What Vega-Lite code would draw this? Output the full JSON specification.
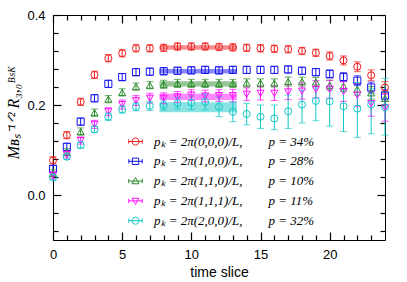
{
"$schema": "https://vega.github.io/schema/vega-lite/v6.json",
"width": 332, "height": 225,
"autosize": {"type": "none"},
"padding": {"left": 53, "top": 15, "right": 22, "bottom": 42},
"background": "white",
"config": {"view": {"stroke": "black", "strokeWidth": 1}, "axis": {"domain": false, "ticks": true, "tickColor": "black", "labelColor": "black", "titleColor": "black", "grid": false, "labelFont": "Liberation Sans", "titleFont": "Liberation Sans", "labelFontSize": 13, "titleFontSize": 14, "titleFontWeight": "normal", "tickWidth": 1.2}},
"datasets": {
"bands": [
{"s": "p\u2096 = 2\u03c0(0,0,0)/L,\u2003\u2003p = 34%", "t0": 7.7, "t1": 13.3, "lo": 0.323, "hi": 0.333},
{"s": "p\u2096 = 2\u03c0(1,0,0)/L,\u2003\u2003p = 28%", "t0": 7.7, "t1": 13.3, "lo": 0.270, "hi": 0.280},
{"s": "p\u2096 = 2\u03c0(1,1,0)/L,\u2003\u2003p = 10%", "t0": 7.7, "t1": 13.3, "lo": 0.241, "hi": 0.253},
{"s": "p\u2096 = 2\u03c0(1,1,1)/L,\u2003\u2003p = 11%", "t0": 7.7, "t1": 13.3, "lo": 0.211, "hi": 0.225},
{"s": "p\u2096 = 2\u03c0(2,0,0)/L,\u2003\u2003p = 32%", "t0": 7.7, "t1": 13.3, "lo": 0.184, "hi": 0.206}
],
"pts": [
{"s": "p\u2096 = 2\u03c0(0,0,0)/L,\u2003\u2003p = 34%", "t": 0, "v": 0.077, "lo": 0.069, "hi": 0.085},
{"s": "p\u2096 = 2\u03c0(0,0,0)/L,\u2003\u2003p = 34%", "t": 1, "v": 0.133, "lo": 0.125, "hi": 0.141},
{"s": "p\u2096 = 2\u03c0(0,0,0)/L,\u2003\u2003p = 34%", "t": 2, "v": 0.207, "lo": 0.199, "hi": 0.215},
{"s": "p\u2096 = 2\u03c0(0,0,0)/L,\u2003\u2003p = 34%", "t": 3, "v": 0.267, "lo": 0.259, "hi": 0.275},
{"s": "p\u2096 = 2\u03c0(0,0,0)/L,\u2003\u2003p = 34%", "t": 4, "v": 0.304, "lo": 0.296, "hi": 0.312},
{"s": "p\u2096 = 2\u03c0(0,0,0)/L,\u2003\u2003p = 34%", "t": 5, "v": 0.315, "lo": 0.307, "hi": 0.323},
{"s": "p\u2096 = 2\u03c0(0,0,0)/L,\u2003\u2003p = 34%", "t": 6, "v": 0.326, "lo": 0.318, "hi": 0.334},
{"s": "p\u2096 = 2\u03c0(0,0,0)/L,\u2003\u2003p = 34%", "t": 7, "v": 0.326, "lo": 0.318, "hi": 0.334},
{"s": "p\u2096 = 2\u03c0(0,0,0)/L,\u2003\u2003p = 34%", "t": 8, "v": 0.327, "lo": 0.319, "hi": 0.335},
{"s": "p\u2096 = 2\u03c0(0,0,0)/L,\u2003\u2003p = 34%", "t": 9, "v": 0.330, "lo": 0.322, "hi": 0.338},
{"s": "p\u2096 = 2\u03c0(0,0,0)/L,\u2003\u2003p = 34%", "t": 10, "v": 0.330, "lo": 0.322, "hi": 0.338},
{"s": "p\u2096 = 2\u03c0(0,0,0)/L,\u2003\u2003p = 34%", "t": 11, "v": 0.330, "lo": 0.322, "hi": 0.338},
{"s": "p\u2096 = 2\u03c0(0,0,0)/L,\u2003\u2003p = 34%", "t": 12, "v": 0.329, "lo": 0.321, "hi": 0.337},
{"s": "p\u2096 = 2\u03c0(0,0,0)/L,\u2003\u2003p = 34%", "t": 13, "v": 0.328, "lo": 0.320, "hi": 0.336},
{"s": "p\u2096 = 2\u03c0(0,0,0)/L,\u2003\u2003p = 34%", "t": 14, "v": 0.327, "lo": 0.319, "hi": 0.335},
{"s": "p\u2096 = 2\u03c0(0,0,0)/L,\u2003\u2003p = 34%", "t": 15, "v": 0.326, "lo": 0.318, "hi": 0.334},
{"s": "p\u2096 = 2\u03c0(0,0,0)/L,\u2003\u2003p = 34%", "t": 16, "v": 0.325, "lo": 0.317, "hi": 0.333},
{"s": "p\u2096 = 2\u03c0(0,0,0)/L,\u2003\u2003p = 34%", "t": 17, "v": 0.324, "lo": 0.316, "hi": 0.332},
{"s": "p\u2096 = 2\u03c0(0,0,0)/L,\u2003\u2003p = 34%", "t": 18, "v": 0.320, "lo": 0.312, "hi": 0.328},
{"s": "p\u2096 = 2\u03c0(0,0,0)/L,\u2003\u2003p = 34%", "t": 19, "v": 0.316, "lo": 0.308, "hi": 0.324},
{"s": "p\u2096 = 2\u03c0(0,0,0)/L,\u2003\u2003p = 34%", "t": 20, "v": 0.309, "lo": 0.300, "hi": 0.318},
{"s": "p\u2096 = 2\u03c0(0,0,0)/L,\u2003\u2003p = 34%", "t": 21, "v": 0.299, "lo": 0.289, "hi": 0.309},
{"s": "p\u2096 = 2\u03c0(0,0,0)/L,\u2003\u2003p = 34%", "t": 22, "v": 0.285, "lo": 0.274, "hi": 0.296},
{"s": "p\u2096 = 2\u03c0(0,0,0)/L,\u2003\u2003p = 34%", "t": 23, "v": 0.266, "lo": 0.254, "hi": 0.278},
{"s": "p\u2096 = 2\u03c0(0,0,0)/L,\u2003\u2003p = 34%", "t": 24, "v": 0.239, "lo": 0.226, "hi": 0.252},
{"s": "p\u2096 = 2\u03c0(1,0,0)/L,\u2003\u2003p = 28%", "t": 0, "v": 0.058, "lo": 0.050, "hi": 0.066},
{"s": "p\u2096 = 2\u03c0(1,0,0)/L,\u2003\u2003p = 28%", "t": 1, "v": 0.107, "lo": 0.099, "hi": 0.115},
{"s": "p\u2096 = 2\u03c0(1,0,0)/L,\u2003\u2003p = 28%", "t": 2, "v": 0.163, "lo": 0.155, "hi": 0.171},
{"s": "p\u2096 = 2\u03c0(1,0,0)/L,\u2003\u2003p = 28%", "t": 3, "v": 0.215, "lo": 0.207, "hi": 0.223},
{"s": "p\u2096 = 2\u03c0(1,0,0)/L,\u2003\u2003p = 28%", "t": 4, "v": 0.247, "lo": 0.239, "hi": 0.255},
{"s": "p\u2096 = 2\u03c0(1,0,0)/L,\u2003\u2003p = 28%", "t": 5, "v": 0.262, "lo": 0.254, "hi": 0.270},
{"s": "p\u2096 = 2\u03c0(1,0,0)/L,\u2003\u2003p = 28%", "t": 6, "v": 0.273, "lo": 0.265, "hi": 0.281},
{"s": "p\u2096 = 2\u03c0(1,0,0)/L,\u2003\u2003p = 28%", "t": 7, "v": 0.274, "lo": 0.266, "hi": 0.282},
{"s": "p\u2096 = 2\u03c0(1,0,0)/L,\u2003\u2003p = 28%", "t": 8, "v": 0.275, "lo": 0.267, "hi": 0.283},
{"s": "p\u2096 = 2\u03c0(1,0,0)/L,\u2003\u2003p = 28%", "t": 9, "v": 0.276, "lo": 0.268, "hi": 0.284},
{"s": "p\u2096 = 2\u03c0(1,0,0)/L,\u2003\u2003p = 28%", "t": 10, "v": 0.277, "lo": 0.269, "hi": 0.285},
{"s": "p\u2096 = 2\u03c0(1,0,0)/L,\u2003\u2003p = 28%", "t": 11, "v": 0.278, "lo": 0.270, "hi": 0.286},
{"s": "p\u2096 = 2\u03c0(1,0,0)/L,\u2003\u2003p = 28%", "t": 12, "v": 0.277, "lo": 0.269, "hi": 0.285},
{"s": "p\u2096 = 2\u03c0(1,0,0)/L,\u2003\u2003p = 28%", "t": 13, "v": 0.278, "lo": 0.270, "hi": 0.286},
{"s": "p\u2096 = 2\u03c0(1,0,0)/L,\u2003\u2003p = 28%", "t": 14, "v": 0.278, "lo": 0.270, "hi": 0.286},
{"s": "p\u2096 = 2\u03c0(1,0,0)/L,\u2003\u2003p = 28%", "t": 15, "v": 0.278, "lo": 0.270, "hi": 0.286},
{"s": "p\u2096 = 2\u03c0(1,0,0)/L,\u2003\u2003p = 28%", "t": 16, "v": 0.278, "lo": 0.270, "hi": 0.286},
{"s": "p\u2096 = 2\u03c0(1,0,0)/L,\u2003\u2003p = 28%", "t": 17, "v": 0.279, "lo": 0.271, "hi": 0.287},
{"s": "p\u2096 = 2\u03c0(1,0,0)/L,\u2003\u2003p = 28%", "t": 18, "v": 0.276, "lo": 0.268, "hi": 0.284},
{"s": "p\u2096 = 2\u03c0(1,0,0)/L,\u2003\u2003p = 28%", "t": 19, "v": 0.273, "lo": 0.265, "hi": 0.281},
{"s": "p\u2096 = 2\u03c0(1,0,0)/L,\u2003\u2003p = 28%", "t": 20, "v": 0.269, "lo": 0.260, "hi": 0.278},
{"s": "p\u2096 = 2\u03c0(1,0,0)/L,\u2003\u2003p = 28%", "t": 21, "v": 0.262, "lo": 0.252, "hi": 0.272},
{"s": "p\u2096 = 2\u03c0(1,0,0)/L,\u2003\u2003p = 28%", "t": 22, "v": 0.254, "lo": 0.243, "hi": 0.265},
{"s": "p\u2096 = 2\u03c0(1,0,0)/L,\u2003\u2003p = 28%", "t": 23, "v": 0.239, "lo": 0.227, "hi": 0.251},
{"s": "p\u2096 = 2\u03c0(1,0,0)/L,\u2003\u2003p = 28%", "t": 24, "v": 0.221, "lo": 0.208, "hi": 0.234},
{"s": "p\u2096 = 2\u03c0(1,1,0)/L,\u2003\u2003p = 10%", "t": 0, "v": 0.048, "lo": 0.040, "hi": 0.056},
{"s": "p\u2096 = 2\u03c0(1,1,0)/L,\u2003\u2003p = 10%", "t": 1, "v": 0.095, "lo": 0.087, "hi": 0.103},
{"s": "p\u2096 = 2\u03c0(1,1,0)/L,\u2003\u2003p = 10%", "t": 2, "v": 0.141, "lo": 0.133, "hi": 0.149},
{"s": "p\u2096 = 2\u03c0(1,1,0)/L,\u2003\u2003p = 10%", "t": 3, "v": 0.183, "lo": 0.175, "hi": 0.191},
{"s": "p\u2096 = 2\u03c0(1,1,0)/L,\u2003\u2003p = 10%", "t": 4, "v": 0.213, "lo": 0.205, "hi": 0.221},
{"s": "p\u2096 = 2\u03c0(1,1,0)/L,\u2003\u2003p = 10%", "t": 5, "v": 0.228, "lo": 0.220, "hi": 0.236},
{"s": "p\u2096 = 2\u03c0(1,1,0)/L,\u2003\u2003p = 10%", "t": 6, "v": 0.241, "lo": 0.233, "hi": 0.249},
{"s": "p\u2096 = 2\u03c0(1,1,0)/L,\u2003\u2003p = 10%", "t": 7, "v": 0.244, "lo": 0.236, "hi": 0.252},
{"s": "p\u2096 = 2\u03c0(1,1,0)/L,\u2003\u2003p = 10%", "t": 8, "v": 0.246, "lo": 0.237, "hi": 0.255},
{"s": "p\u2096 = 2\u03c0(1,1,0)/L,\u2003\u2003p = 10%", "t": 9, "v": 0.248, "lo": 0.239, "hi": 0.257},
{"s": "p\u2096 = 2\u03c0(1,1,0)/L,\u2003\u2003p = 10%", "t": 10, "v": 0.248, "lo": 0.239, "hi": 0.257},
{"s": "p\u2096 = 2\u03c0(1,1,0)/L,\u2003\u2003p = 10%", "t": 11, "v": 0.248, "lo": 0.239, "hi": 0.257},
{"s": "p\u2096 = 2\u03c0(1,1,0)/L,\u2003\u2003p = 10%", "t": 12, "v": 0.248, "lo": 0.239, "hi": 0.257},
{"s": "p\u2096 = 2\u03c0(1,1,0)/L,\u2003\u2003p = 10%", "t": 13, "v": 0.248, "lo": 0.239, "hi": 0.257},
{"s": "p\u2096 = 2\u03c0(1,1,0)/L,\u2003\u2003p = 10%", "t": 14, "v": 0.249, "lo": 0.240, "hi": 0.258},
{"s": "p\u2096 = 2\u03c0(1,1,0)/L,\u2003\u2003p = 10%", "t": 15, "v": 0.249, "lo": 0.240, "hi": 0.258},
{"s": "p\u2096 = 2\u03c0(1,1,0)/L,\u2003\u2003p = 10%", "t": 16, "v": 0.249, "lo": 0.240, "hi": 0.258},
{"s": "p\u2096 = 2\u03c0(1,1,0)/L,\u2003\u2003p = 10%", "t": 17, "v": 0.252, "lo": 0.242, "hi": 0.262},
{"s": "p\u2096 = 2\u03c0(1,1,0)/L,\u2003\u2003p = 10%", "t": 18, "v": 0.252, "lo": 0.242, "hi": 0.262},
{"s": "p\u2096 = 2\u03c0(1,1,0)/L,\u2003\u2003p = 10%", "t": 19, "v": 0.251, "lo": 0.241, "hi": 0.261},
{"s": "p\u2096 = 2\u03c0(1,1,0)/L,\u2003\u2003p = 10%", "t": 20, "v": 0.244, "lo": 0.233, "hi": 0.255},
{"s": "p\u2096 = 2\u03c0(1,1,0)/L,\u2003\u2003p = 10%", "t": 21, "v": 0.242, "lo": 0.230, "hi": 0.254},
{"s": "p\u2096 = 2\u03c0(1,1,0)/L,\u2003\u2003p = 10%", "t": 22, "v": 0.235, "lo": 0.222, "hi": 0.248},
{"s": "p\u2096 = 2\u03c0(1,1,0)/L,\u2003\u2003p = 10%", "t": 23, "v": 0.227, "lo": 0.213, "hi": 0.241},
{"s": "p\u2096 = 2\u03c0(1,1,0)/L,\u2003\u2003p = 10%", "t": 24, "v": 0.215, "lo": 0.200, "hi": 0.230},
{"s": "p\u2096 = 2\u03c0(1,1,1)/L,\u2003\u2003p = 11%", "t": 0, "v": 0.044, "lo": 0.036, "hi": 0.052},
{"s": "p\u2096 = 2\u03c0(1,1,1)/L,\u2003\u2003p = 11%", "t": 1, "v": 0.090, "lo": 0.082, "hi": 0.098},
{"s": "p\u2096 = 2\u03c0(1,1,1)/L,\u2003\u2003p = 11%", "t": 2, "v": 0.121, "lo": 0.113, "hi": 0.129},
{"s": "p\u2096 = 2\u03c0(1,1,1)/L,\u2003\u2003p = 11%", "t": 3, "v": 0.157, "lo": 0.148, "hi": 0.166},
{"s": "p\u2096 = 2\u03c0(1,1,1)/L,\u2003\u2003p = 11%", "t": 4, "v": 0.185, "lo": 0.176, "hi": 0.194},
{"s": "p\u2096 = 2\u03c0(1,1,1)/L,\u2003\u2003p = 11%", "t": 5, "v": 0.201, "lo": 0.191, "hi": 0.211},
{"s": "p\u2096 = 2\u03c0(1,1,1)/L,\u2003\u2003p = 11%", "t": 6, "v": 0.210, "lo": 0.199, "hi": 0.221},
{"s": "p\u2096 = 2\u03c0(1,1,1)/L,\u2003\u2003p = 11%", "t": 7, "v": 0.215, "lo": 0.204, "hi": 0.226},
{"s": "p\u2096 = 2\u03c0(1,1,1)/L,\u2003\u2003p = 11%", "t": 8, "v": 0.215, "lo": 0.203, "hi": 0.227},
{"s": "p\u2096 = 2\u03c0(1,1,1)/L,\u2003\u2003p = 11%", "t": 9, "v": 0.218, "lo": 0.206, "hi": 0.230},
{"s": "p\u2096 = 2\u03c0(1,1,1)/L,\u2003\u2003p = 11%", "t": 10, "v": 0.222, "lo": 0.210, "hi": 0.234},
{"s": "p\u2096 = 2\u03c0(1,1,1)/L,\u2003\u2003p = 11%", "t": 11, "v": 0.220, "lo": 0.207, "hi": 0.233},
{"s": "p\u2096 = 2\u03c0(1,1,1)/L,\u2003\u2003p = 11%", "t": 12, "v": 0.221, "lo": 0.208, "hi": 0.234},
{"s": "p\u2096 = 2\u03c0(1,1,1)/L,\u2003\u2003p = 11%", "t": 13, "v": 0.221, "lo": 0.207, "hi": 0.235},
{"s": "p\u2096 = 2\u03c0(1,1,1)/L,\u2003\u2003p = 11%", "t": 14, "v": 0.224, "lo": 0.210, "hi": 0.238},
{"s": "p\u2096 = 2\u03c0(1,1,1)/L,\u2003\u2003p = 11%", "t": 15, "v": 0.226, "lo": 0.211, "hi": 0.241},
{"s": "p\u2096 = 2\u03c0(1,1,1)/L,\u2003\u2003p = 11%", "t": 16, "v": 0.226, "lo": 0.210, "hi": 0.242},
{"s": "p\u2096 = 2\u03c0(1,1,1)/L,\u2003\u2003p = 11%", "t": 17, "v": 0.229, "lo": 0.212, "hi": 0.246},
{"s": "p\u2096 = 2\u03c0(1,1,1)/L,\u2003\u2003p = 11%", "t": 18, "v": 0.231, "lo": 0.213, "hi": 0.249},
{"s": "p\u2096 = 2\u03c0(1,1,1)/L,\u2003\u2003p = 11%", "t": 19, "v": 0.235, "lo": 0.216, "hi": 0.254},
{"s": "p\u2096 = 2\u03c0(1,1,1)/L,\u2003\u2003p = 11%", "t": 20, "v": 0.235, "lo": 0.215, "hi": 0.255},
{"s": "p\u2096 = 2\u03c0(1,1,1)/L,\u2003\u2003p = 11%", "t": 21, "v": 0.230, "lo": 0.208, "hi": 0.252},
{"s": "p\u2096 = 2\u03c0(1,1,1)/L,\u2003\u2003p = 11%", "t": 22, "v": 0.222, "lo": 0.197, "hi": 0.247},
{"s": "p\u2096 = 2\u03c0(1,1,1)/L,\u2003\u2003p = 11%", "t": 23, "v": 0.203, "lo": 0.175, "hi": 0.231},
{"s": "p\u2096 = 2\u03c0(1,1,1)/L,\u2003\u2003p = 11%", "t": 24, "v": 0.194, "lo": 0.164, "hi": 0.224},
{"s": "p\u2096 = 2\u03c0(2,0,0)/L,\u2003\u2003p = 32%", "t": 0, "v": 0.039, "lo": 0.033, "hi": 0.045},
{"s": "p\u2096 = 2\u03c0(2,0,0)/L,\u2003\u2003p = 32%", "t": 1, "v": 0.085, "lo": 0.079, "hi": 0.091},
{"s": "p\u2096 = 2\u03c0(2,0,0)/L,\u2003\u2003p = 32%", "t": 2, "v": 0.111, "lo": 0.104, "hi": 0.118},
{"s": "p\u2096 = 2\u03c0(2,0,0)/L,\u2003\u2003p = 32%", "t": 3, "v": 0.146, "lo": 0.139, "hi": 0.153},
{"s": "p\u2096 = 2\u03c0(2,0,0)/L,\u2003\u2003p = 32%", "t": 4, "v": 0.174, "lo": 0.166, "hi": 0.182},
{"s": "p\u2096 = 2\u03c0(2,0,0)/L,\u2003\u2003p = 32%", "t": 5, "v": 0.190, "lo": 0.182, "hi": 0.198},
{"s": "p\u2096 = 2\u03c0(2,0,0)/L,\u2003\u2003p = 32%", "t": 6, "v": 0.196, "lo": 0.187, "hi": 0.205},
{"s": "p\u2096 = 2\u03c0(2,0,0)/L,\u2003\u2003p = 32%", "t": 7, "v": 0.198, "lo": 0.188, "hi": 0.208},
{"s": "p\u2096 = 2\u03c0(2,0,0)/L,\u2003\u2003p = 32%", "t": 8, "v": 0.200, "lo": 0.189, "hi": 0.211},
{"s": "p\u2096 = 2\u03c0(2,0,0)/L,\u2003\u2003p = 32%", "t": 9, "v": 0.204, "lo": 0.191, "hi": 0.217},
{"s": "p\u2096 = 2\u03c0(2,0,0)/L,\u2003\u2003p = 32%", "t": 10, "v": 0.205, "lo": 0.190, "hi": 0.220},
{"s": "p\u2096 = 2\u03c0(2,0,0)/L,\u2003\u2003p = 32%", "t": 11, "v": 0.207, "lo": 0.189, "hi": 0.225},
{"s": "p\u2096 = 2\u03c0(2,0,0)/L,\u2003\u2003p = 32%", "t": 12, "v": 0.196, "lo": 0.174, "hi": 0.218},
{"s": "p\u2096 = 2\u03c0(2,0,0)/L,\u2003\u2003p = 32%", "t": 13, "v": 0.185, "lo": 0.163, "hi": 0.207},
{"s": "p\u2096 = 2\u03c0(2,0,0)/L,\u2003\u2003p = 32%", "t": 14, "v": 0.180, "lo": 0.156, "hi": 0.204},
{"s": "p\u2096 = 2\u03c0(2,0,0)/L,\u2003\u2003p = 32%", "t": 15, "v": 0.174, "lo": 0.148, "hi": 0.200},
{"s": "p\u2096 = 2\u03c0(2,0,0)/L,\u2003\u2003p = 32%", "t": 16, "v": 0.170, "lo": 0.145, "hi": 0.200},
{"s": "p\u2096 = 2\u03c0(2,0,0)/L,\u2003\u2003p = 32%", "t": 17, "v": 0.186, "lo": 0.148, "hi": 0.222},
{"s": "p\u2096 = 2\u03c0(2,0,0)/L,\u2003\u2003p = 32%", "t": 18, "v": 0.201, "lo": 0.160, "hi": 0.233},
{"s": "p\u2096 = 2\u03c0(2,0,0)/L,\u2003\u2003p = 32%", "t": 19, "v": 0.209, "lo": 0.165, "hi": 0.238},
{"s": "p\u2096 = 2\u03c0(2,0,0)/L,\u2003\u2003p = 32%", "t": 20, "v": 0.208, "lo": 0.153, "hi": 0.241},
{"s": "p\u2096 = 2\u03c0(2,0,0)/L,\u2003\u2003p = 32%", "t": 21, "v": 0.197, "lo": 0.141, "hi": 0.233},
{"s": "p\u2096 = 2\u03c0(2,0,0)/L,\u2003\u2003p = 32%", "t": 22, "v": 0.192, "lo": 0.128, "hi": 0.250},
{"s": "p\u2096 = 2\u03c0(2,0,0)/L,\u2003\u2003p = 32%", "t": 23, "v": 0.201, "lo": 0.136, "hi": 0.236},
{"s": "p\u2096 = 2\u03c0(2,0,0)/L,\u2003\u2003p = 32%", "t": 24, "v": 0.195, "lo": 0.133, "hi": 0.259}
]
},
"resolve": {"axis": {"x": "independent", "y": "independent"}, "scale": {"shape": "independent"}, "legend": {"color": "independent", "shape": "independent"}},
"layer": [
{
"data": {"name": "bands"},
"mark": {"type": "rect", "opacity": 0.5},
"encoding": {
"x": {"field": "t0", "type": "quantitative", "scale": {"domain": [0, 24], "nice": false, "zero": false},
 "axis": {"orient": "bottom", "values": [0,5,10,15,20], "title": "time slice", "titleY": 25, "titleBaseline": "top", "titleFontSize": 14,
  "ticks": false, "labelPadding": 8, "labelFlush": false, "labelOverlap": false}},
"x2": {"field": "t1"},
"y": {"field": "lo", "type": "quantitative", "scale": {"domain": [-0.1, 0.4], "nice": false, "zero": false},
 "axis": {"orient": "left", "values": [0, 0.2, 0.4], "format": ".1f",
  "title": "M\u0299\u209b\u207b\u00b9\u141f\u00b2 R\u2083,\u2080\u1d2e\u02e2\u1d37", "titleX": -40, "titleY": 97, "titleAngle": 270, "titleAlign": "center", "titleBaseline": "middle",
  "titleFont": "Liberation Serif", "titleFontStyle": "italic", "titleFontSize": 16,
  "ticks": false, "labelPadding": 8, "labelFlush": false, "labelOverlap": false}},
"y2": {"field": "hi"},
"color": {"field": "s", "type": "nominal", "legend": null}
}
},
{
"data": {"name": "pts"},
"mark": {"type": "rule", "strokeWidth": 1},
"encoding": {
"x": {"field": "t", "type": "quantitative",
 "axis": {"orient": "top", "offset": -225, "values": [0,5,10,15,20], "labels": false, "title": null, "tickSize": 8}},
"y": {"field": "lo", "type": "quantitative",
 "axis": {"orient": "right", "offset": -332, "values": [0, 0.2, 0.4], "labels": false, "title": null, "tickSize": 8}},
"y2": {"field": "hi"},
"color": {"field": "s", "type": "nominal", "legend": null}
}
},
{
"data": {"name": "pts"},
"mark": {"type": "tick", "orient": "horizontal", "size": 7, "thickness": 1},
"encoding": {
"x": {"field": "t", "type": "quantitative",
 "axis": {"orient": "bottom", "offset": -225, "values": [0,5,10,15,20], "labels": false, "title": null, "tickSize": 8}},
"y": {"field": "lo", "type": "quantitative",
 "axis": {"orient": "left", "offset": -332, "values": [0, 0.2, 0.4], "labels": false, "title": null, "tickSize": 8}},
"color": {"field": "s", "type": "nominal", "legend": null}
}
},
{
"data": {"name": "pts"},
"mark": {"type": "tick", "orient": "horizontal", "size": 7, "thickness": 1},
"encoding": {
"x": {"field": "t", "type": "quantitative",
 "axis": {"orient": "top", "offset": -225, "values": [1,2,3,4,6,7,8,9,11,12,13,14,16,17,18,19,21,22,23], "labels": false, "title": null, "tickSize": 5}},
"y": {"field": "hi", "type": "quantitative",
 "axis": {"orient": "right", "offset": -332, "values": [-0.08,-0.04,0.04,0.08,0.12,0.16,0.24,0.28,0.32,0.36], "labels": false, "title": null, "tickSize": 5}},
"color": {"field": "s", "type": "nominal", "legend": null}
}
},
{
"data": {"name": "pts"},
"mark": {"type": "point", "filled": false, "size": 50, "strokeWidth": 1, "opacity": 1},
"encoding": {
"x": {"field": "t", "type": "quantitative",
 "axis": {"orient": "bottom", "offset": -225, "values": [1,2,3,4,6,7,8,9,11,12,13,14,16,17,18,19,21,22,23], "labels": false, "title": null, "tickSize": 5}},
"y": {"field": "v", "type": "quantitative",
 "axis": {"orient": "left", "offset": -332, "values": [-0.08,-0.04,0.04,0.08,0.12,0.16,0.24,0.28,0.32,0.36], "labels": false, "title": null, "tickSize": 5}},
"color": {"field": "s", "type": "nominal",
 "scale": {"domain": ["p\u2096 = 2\u03c0(0,0,0)/L,\u2003\u2003p = 34%", "p\u2096 = 2\u03c0(1,0,0)/L,\u2003\u2003p = 28%", "p\u2096 = 2\u03c0(1,1,0)/L,\u2003\u2003p = 10%", "p\u2096 = 2\u03c0(1,1,1)/L,\u2003\u2003p = 11%", "p\u2096 = 2\u03c0(2,0,0)/L,\u2003\u2003p = 32%"], "range": ["#f01c1c", "#1414f0", "#2a8c2a", "#ff10ff", "#14c8c8"]},
 "legend": null},
"shape": {"field": "s", "type": "nominal",
 "scale": {"domain": ["p\u2096 = 2\u03c0(0,0,0)/L,\u2003\u2003p = 34%", "p\u2096 = 2\u03c0(1,0,0)/L,\u2003\u2003p = 28%", "p\u2096 = 2\u03c0(1,1,0)/L,\u2003\u2003p = 10%", "p\u2096 = 2\u03c0(1,1,1)/L,\u2003\u2003p = 11%", "p\u2096 = 2\u03c0(2,0,0)/L,\u2003\u2003p = 32%"], "range": ["circle", "square", "triangle-up", "triangle-down", "circle"]},
 "legend": null}
}
},
{
"data": {"name": "bands"},
"mark": {"type": "point", "filled": false, "size": 50, "strokeWidth": 1, "opacity": 0},
"encoding": {
"x": {"field": "t0", "type": "quantitative", "axis": null},
"y": {"field": "lo", "type": "quantitative", "axis": null},
"color": {"field": "s", "type": "nominal",
 "legend": {"orient": "none", "legendX": 76, "legendY": 120, "title": null, "padding": 0, "labelFont": "Liberation Serif", "labelFontStyle": "italic", "labelFontSize": 13, "labelColor": "black", "labelLimit": 400, "symbolSize": 50, "symbolStrokeWidth": 1, "rowPadding": 5.8, "labelOffset": 12, "symbolOffset": 0, "symbolOpacity": 1}},
"shape": {"field": "s", "type": "nominal",
 "scale": {"domain": ["p\u2096 = 2\u03c0(0,0,0)/L,\u2003\u2003p = 34%", "p\u2096 = 2\u03c0(1,0,0)/L,\u2003\u2003p = 28%", "p\u2096 = 2\u03c0(1,1,0)/L,\u2003\u2003p = 10%", "p\u2096 = 2\u03c0(1,1,1)/L,\u2003\u2003p = 11%", "p\u2096 = 2\u03c0(2,0,0)/L,\u2003\u2003p = 32%"],
  "range": ["M-1,0A1,1,0,1,1,1,0A1,1,0,1,1,-1,0M-1.9,0H1.9M-1.9,-0.6V0.6M1.9,-0.6V0.6", "M-0.9,-0.9H0.9V0.9H-0.9ZM-1.9,0H1.9M-1.9,-0.6V0.6M1.9,-0.6V0.6", "M0,-1L1,0.75H-1ZM-1.9,0H1.9M-1.9,-0.6V0.6M1.9,-0.6V0.6", "M0,1L1,-0.75H-1ZM-1.9,0H1.9M-1.9,-0.6V0.6M1.9,-0.6V0.6", "M-1,0A1,1,0,1,1,1,0A1,1,0,1,1,-1,0M-1.9,0H1.9M-1.9,-0.6V0.6M1.9,-0.6V0.6"]},
 "legend": {"orient": "none", "legendX": 76, "legendY": 120, "title": null, "padding": 0, "labelFont": "Liberation Serif", "labelFontStyle": "italic", "labelFontSize": 13, "labelColor": "black", "labelLimit": 400, "symbolSize": 50, "symbolStrokeWidth": 1, "rowPadding": 5.8, "labelOffset": 12, "symbolOffset": 0, "symbolOpacity": 1}}
}
}
]
}
